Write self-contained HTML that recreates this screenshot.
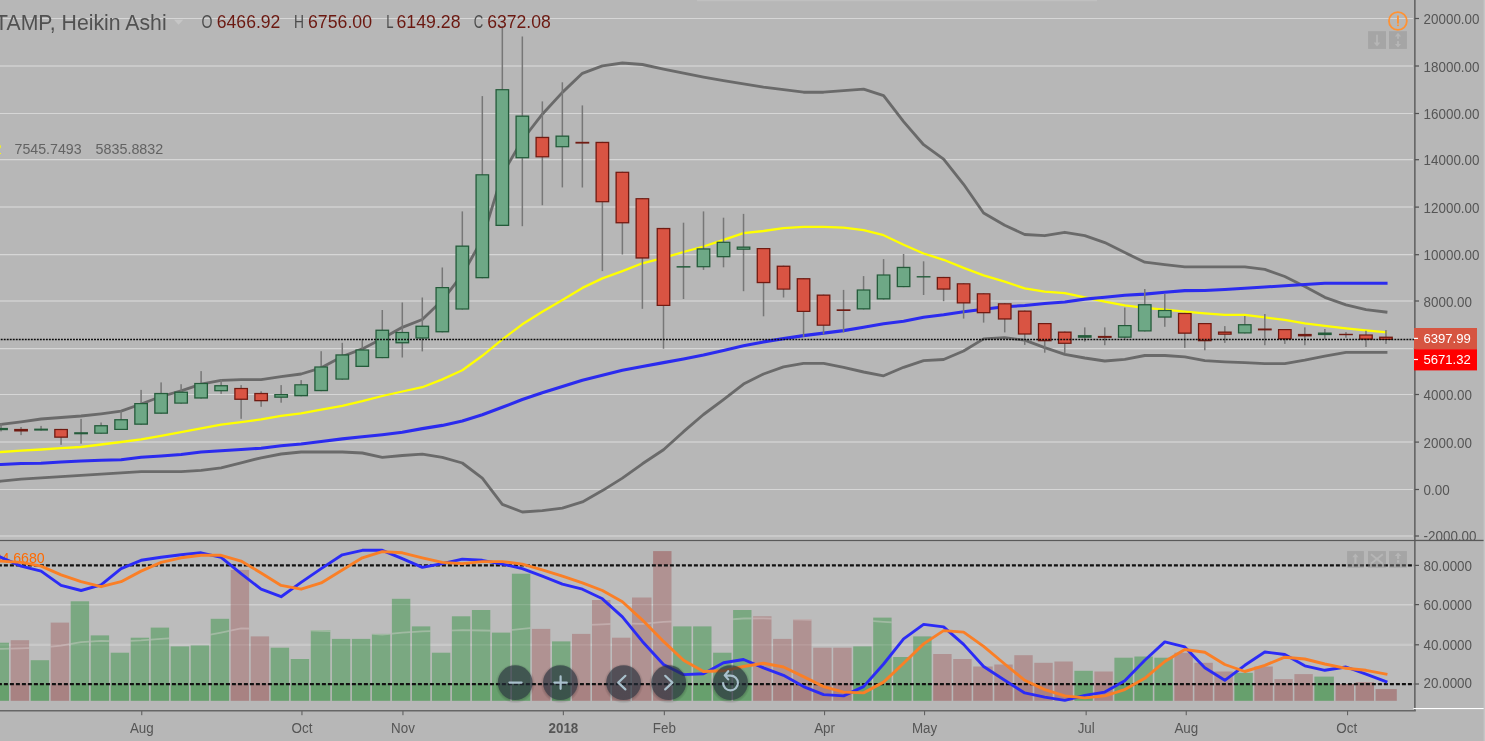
<!DOCTYPE html>
<html><head><meta charset="utf-8"><title>Chart</title>
<style>
html,body{margin:0;padding:0;background:#b7b7b7;overflow:hidden}
svg{display:block;will-change:transform}
text{font-family:"Liberation Sans",sans-serif}
</style></head><body>
<svg width="1485" height="741" viewBox="0 0 1485 741">
<rect width="1485" height="741" fill="#b7b7b7"/>
<rect x="697" y="0" width="400" height="1.2" fill="#c0c0c0"/>
<g stroke="#d6d6d6" stroke-width="1.15">
<line x1="0" y1="18.50" x2="1413" y2="18.50"/>
<line x1="0" y1="66.00" x2="1413" y2="66.00" stroke="#cacaca" stroke-width="2"/>
<line x1="0" y1="113.50" x2="1413" y2="113.50"/>
<line x1="0" y1="159.65" x2="1413" y2="159.65"/>
<line x1="0" y1="207.10" x2="1413" y2="207.10" stroke="#cacaca" stroke-width="2"/>
<line x1="0" y1="254.65" x2="1413" y2="254.65"/>
<line x1="0" y1="301.05" x2="1413" y2="301.05" stroke="#cacaca" stroke-width="2"/>
<line x1="0" y1="348.60" x2="1413" y2="348.60"/>
<line x1="0" y1="394.50" x2="1413" y2="394.50"/>
<line x1="0" y1="442.10" x2="1413" y2="442.10" stroke="#cacaca" stroke-width="2"/>
<line x1="0" y1="489.50" x2="1413" y2="489.50"/>
<line x1="0" y1="536.05" x2="1413" y2="536.05" stroke="#cacaca" stroke-width="2"/>
</g>
<g fill="none" stroke-linejoin="round" stroke-linecap="square">
<path d="M-20.0 426.9 L1.0 424.3 L21.1 421.8 L41.1 419.0 L61.1 417.5 L81.1 416.0 L101.1 413.8 L121.1 411.2 L141.1 404.0 L161.1 396.5 L181.1 390.8 L201.1 384.1 L221.1 380.3 L241.1 379.6 L261.1 379.6 L281.1 376.6 L301.1 374.0 L321.2 367.8 L342.3 356.5 L362.3 348.9 L382.3 338.5 L402.3 327.3 L422.3 319.5 L442.3 300.3 L462.3 274.7 L482.3 239.1 L502.3 174.3 L522.3 140.0 L542.3 114.2 L562.4 92.4 L582.4 73.3 L602.4 65.8 L622.4 63.0 L642.4 64.5 L663.5 69.1 L683.5 73.1 L703.5 77.1 L723.5 80.7 L743.5 83.9 L763.5 87.2 L783.5 89.7 L803.5 92.2 L823.6 92.2 L843.6 90.7 L863.6 89.2 L883.6 95.7 L903.6 121.6 L923.6 144.7 L943.6 159.2 L963.6 184.3 L983.6 213.0 L1004.7 225.2 L1024.7 234.5 L1044.7 235.7 L1064.8 232.3 L1084.8 235.6 L1104.8 242.6 L1124.8 252.6 L1144.8 262.2 L1164.8 264.7 L1184.8 266.9 L1204.8 266.9 L1224.8 266.9 L1244.8 266.9 L1264.8 269.4 L1284.8 276.5 L1304.8 286.5 L1324.8 297.3 L1346.0 304.8 L1366.0 309.6 L1386.0 312.1" stroke="#6a6a6a" stroke-width="2.85"/>
<path d="M-20.0 483.2 L1.0 481.1 L21.1 479.1 L41.1 477.9 L61.1 476.6 L81.1 475.3 L101.1 474.1 L121.1 472.8 L141.1 471.6 L161.1 471.6 L181.1 471.6 L201.1 470.3 L221.1 467.8 L241.1 462.8 L261.1 457.8 L281.1 454.0 L301.1 452.0 L321.2 452.0 L342.3 452.0 L362.3 453.0 L382.3 457.3 L402.3 455.5 L422.3 454.2 L442.3 457.3 L462.3 463.0 L482.3 478.1 L502.3 504.4 L522.3 512.0 L542.3 510.7 L562.4 508.2 L582.4 501.9 L602.4 490.6 L622.4 478.1 L642.4 463.8 L663.5 449.7 L683.5 431.7 L703.5 414.5 L723.5 399.6 L743.5 384.1 L763.5 374.0 L783.5 366.8 L803.5 363.3 L823.6 363.3 L843.6 367.3 L863.6 372.0 L883.6 375.8 L903.6 367.3 L923.6 360.7 L943.6 359.5 L963.6 351.0 L983.6 338.9 L1004.7 337.7 L1024.7 340.2 L1044.7 347.7 L1064.8 354.4 L1084.8 358.0 L1104.8 361.0 L1124.8 359.3 L1144.8 355.5 L1164.8 355.5 L1184.8 356.8 L1204.8 360.6 L1224.8 361.8 L1244.8 362.6 L1264.8 363.6 L1284.8 363.6 L1304.8 360.2 L1324.8 356.1 L1346.0 352.3 L1366.0 352.3 L1386.0 352.3" stroke="#6a6a6a" stroke-width="2.85"/>
<path d="M-20.0 453.4 L1.0 452.0 L21.1 450.7 L41.1 449.5 L61.1 448.2 L81.1 447.0 L101.1 444.5 L121.1 442.0 L141.1 439.4 L161.1 435.9 L181.1 432.2 L201.1 428.4 L221.1 424.6 L241.1 422.1 L261.1 419.4 L281.1 415.9 L301.1 413.3 L321.2 409.6 L342.3 405.8 L362.3 401.2 L382.3 396.0 L402.3 391.5 L422.3 387.2 L442.3 379.4 L462.3 370.2 L482.3 355.8 L502.3 339.4 L522.3 324.3 L542.3 311.8 L562.4 300.0 L582.4 287.9 L602.4 278.4 L622.4 271.1 L642.4 263.3 L663.5 257.8 L683.5 252.0 L703.5 246.5 L723.5 239.8 L743.5 233.2 L763.5 231.0 L783.5 228.2 L803.5 226.9 L823.6 226.9 L843.6 227.7 L863.6 230.2 L883.6 235.2 L903.6 244.8 L923.6 253.5 L943.6 259.8 L963.6 267.9 L983.6 275.4 L1004.7 281.7 L1024.7 288.4 L1044.7 291.7 L1064.8 293.2 L1084.8 297.3 L1104.8 301.6 L1124.8 305.3 L1144.8 307.9 L1164.8 309.6 L1184.8 311.6 L1204.8 313.4 L1224.8 314.9 L1244.8 314.9 L1264.8 317.4 L1284.8 319.9 L1304.8 323.4 L1324.8 325.9 L1346.0 328.4 L1366.0 330.4 L1386.0 332.2" stroke="#ffff00" stroke-width="2.3"/>
<path d="M-20.0 465.6 L1.0 464.5 L21.1 463.5 L41.1 463.3 L61.1 462.0 L81.1 461.0 L101.1 460.3 L121.1 459.8 L141.1 457.3 L161.1 456.0 L181.1 454.5 L201.1 452.0 L221.1 450.7 L241.1 449.5 L261.1 448.2 L281.1 445.7 L301.1 444.0 L321.2 441.5 L342.3 438.9 L362.3 436.8 L382.3 434.7 L402.3 432.2 L422.3 428.6 L442.3 425.4 L462.3 421.1 L482.3 414.8 L502.3 407.3 L522.3 399.5 L542.3 392.8 L562.4 386.5 L582.4 380.2 L602.4 375.2 L622.4 370.2 L642.4 366.4 L663.5 362.6 L683.5 358.9 L703.5 355.0 L723.5 350.4 L743.5 345.7 L763.5 341.9 L783.5 338.6 L803.5 335.6 L823.6 333.1 L843.6 330.6 L863.6 327.3 L883.6 323.8 L903.6 321.3 L923.6 317.3 L943.6 314.8 L963.6 311.8 L983.6 309.3 L1004.7 306.8 L1024.7 305.5 L1044.7 303.5 L1064.8 302.0 L1084.8 299.1 L1104.8 297.3 L1124.8 295.3 L1144.8 294.1 L1164.8 292.2 L1184.8 290.6 L1204.8 290.5 L1224.8 289.5 L1244.8 288.3 L1264.8 287.0 L1284.8 285.8 L1304.8 284.5 L1324.8 283.3 L1346.0 283.3 L1366.0 283.3 L1386.0 283.3" stroke="#2b2bee" stroke-width="3.1"/>
</g>
<g>
<rect x="0.29" y="423.3" width="1.5" height="8.1" fill="#777"/>
<rect x="-5.86" y="427.9" width="13.8" height="2.3" fill="#245b3a"/>
<rect x="20.30" y="427.0" width="1.5" height="8.1" fill="#777"/>
<rect x="14.15" y="428.9" width="13.8" height="2.6" fill="#701b12"/>
<rect x="40.31" y="425.9" width="1.5" height="4.7" fill="#777"/>
<rect x="34.16" y="428.6" width="13.8" height="2.0" fill="#245b3a"/>
<rect x="60.32" y="428.9" width="1.5" height="15.9" fill="#777"/>
<rect x="54.17" y="428.9" width="13.8" height="8.9" fill="#701b12"/>
<rect x="55.47" y="430.1" width="11.2" height="6.4" fill="#d95443"/>
<rect x="80.32" y="418.9" width="1.5" height="24.8" fill="#777"/>
<rect x="74.17" y="432.2" width="13.8" height="2.1" fill="#245b3a"/>
<rect x="100.33" y="422.5" width="1.5" height="11.3" fill="#777"/>
<rect x="94.18" y="425.1" width="13.8" height="8.7" fill="#245b3a"/>
<rect x="95.48" y="426.4" width="11.2" height="6.2" fill="#6ea886"/>
<rect x="120.34" y="410.8" width="1.5" height="19.2" fill="#777"/>
<rect x="114.19" y="419.1" width="13.8" height="10.9" fill="#245b3a"/>
<rect x="115.49" y="420.4" width="11.2" height="8.4" fill="#6ea886"/>
<rect x="140.34" y="389.9" width="1.5" height="34.9" fill="#777"/>
<rect x="134.19" y="403.0" width="13.8" height="21.8" fill="#245b3a"/>
<rect x="135.49" y="404.2" width="11.2" height="19.3" fill="#6ea886"/>
<rect x="160.35" y="382.4" width="1.5" height="31.4" fill="#777"/>
<rect x="154.20" y="392.9" width="13.8" height="20.9" fill="#245b3a"/>
<rect x="155.50" y="394.1" width="11.2" height="18.4" fill="#6ea886"/>
<rect x="180.36" y="384.2" width="1.5" height="19.5" fill="#777"/>
<rect x="174.21" y="391.6" width="13.8" height="12.1" fill="#245b3a"/>
<rect x="175.51" y="392.9" width="11.2" height="9.6" fill="#6ea886"/>
<rect x="200.36" y="371.1" width="1.5" height="27.5" fill="#777"/>
<rect x="194.21" y="382.9" width="13.8" height="15.7" fill="#245b3a"/>
<rect x="195.51" y="384.1" width="11.2" height="13.2" fill="#6ea886"/>
<rect x="220.37" y="379.4" width="1.5" height="14.5" fill="#777"/>
<rect x="214.22" y="385.1" width="13.8" height="6.2" fill="#245b3a"/>
<rect x="215.52" y="386.4" width="11.2" height="3.7" fill="#6ea886"/>
<rect x="240.38" y="385.1" width="1.5" height="33.7" fill="#777"/>
<rect x="234.23" y="387.9" width="13.8" height="12.0" fill="#701b12"/>
<rect x="235.53" y="389.1" width="11.2" height="9.5" fill="#d95443"/>
<rect x="260.39" y="391.3" width="1.5" height="15.5" fill="#777"/>
<rect x="254.24" y="392.9" width="13.8" height="8.4" fill="#701b12"/>
<rect x="255.54" y="394.1" width="11.2" height="5.9" fill="#d95443"/>
<rect x="280.39" y="385.1" width="1.5" height="17.6" fill="#777"/>
<rect x="274.24" y="394.0" width="13.8" height="3.8" fill="#245b3a"/>
<rect x="275.54" y="395.2" width="11.2" height="1.3" fill="#6ea886"/>
<rect x="300.40" y="380.1" width="1.5" height="16.2" fill="#777"/>
<rect x="294.25" y="384.2" width="13.8" height="12.1" fill="#245b3a"/>
<rect x="295.55" y="385.4" width="11.2" height="9.6" fill="#6ea886"/>
<rect x="320.41" y="351.2" width="1.5" height="40.0" fill="#777"/>
<rect x="314.26" y="366.4" width="13.8" height="24.8" fill="#245b3a"/>
<rect x="315.56" y="367.6" width="11.2" height="22.3" fill="#6ea886"/>
<rect x="341.53" y="342.8" width="1.5" height="36.9" fill="#777"/>
<rect x="335.38" y="354.3" width="13.8" height="25.4" fill="#245b3a"/>
<rect x="336.68" y="355.6" width="11.2" height="22.9" fill="#6ea886"/>
<rect x="361.53" y="338.9" width="1.5" height="28.1" fill="#777"/>
<rect x="355.38" y="349.4" width="13.8" height="17.6" fill="#245b3a"/>
<rect x="356.68" y="350.6" width="11.2" height="15.1" fill="#6ea886"/>
<rect x="381.54" y="310.0" width="1.5" height="48.2" fill="#777"/>
<rect x="375.39" y="329.6" width="13.8" height="28.6" fill="#245b3a"/>
<rect x="376.69" y="330.9" width="11.2" height="26.1" fill="#6ea886"/>
<rect x="401.55" y="302.5" width="1.5" height="55.0" fill="#777"/>
<rect x="395.40" y="331.9" width="13.8" height="11.5" fill="#245b3a"/>
<rect x="396.70" y="333.1" width="11.2" height="9.0" fill="#6ea886"/>
<rect x="421.55" y="297.5" width="1.5" height="53.9" fill="#777"/>
<rect x="415.40" y="325.6" width="13.8" height="13.0" fill="#245b3a"/>
<rect x="416.70" y="326.9" width="11.2" height="10.5" fill="#6ea886"/>
<rect x="441.56" y="267.5" width="1.5" height="64.9" fill="#777"/>
<rect x="435.41" y="287.0" width="13.8" height="45.4" fill="#245b3a"/>
<rect x="436.71" y="288.2" width="11.2" height="42.9" fill="#6ea886"/>
<rect x="461.57" y="211.4" width="1.5" height="98.2" fill="#777"/>
<rect x="455.42" y="245.5" width="13.8" height="64.1" fill="#245b3a"/>
<rect x="456.72" y="246.8" width="11.2" height="61.6" fill="#6ea886"/>
<rect x="481.57" y="96.1" width="1.5" height="182.2" fill="#777"/>
<rect x="475.42" y="174.2" width="13.8" height="104.1" fill="#245b3a"/>
<rect x="476.72" y="175.4" width="11.2" height="101.6" fill="#6ea886"/>
<rect x="501.58" y="26.0" width="1.5" height="200.0" fill="#777"/>
<rect x="495.43" y="89.1" width="13.8" height="136.9" fill="#245b3a"/>
<rect x="496.73" y="90.3" width="11.2" height="134.4" fill="#6ea886"/>
<rect x="521.59" y="36.5" width="1.5" height="189.7" fill="#777"/>
<rect x="515.44" y="115.5" width="13.8" height="42.8" fill="#245b3a"/>
<rect x="516.74" y="116.8" width="11.2" height="40.3" fill="#6ea886"/>
<rect x="541.60" y="101.4" width="1.5" height="103.8" fill="#777"/>
<rect x="535.45" y="136.8" width="13.8" height="20.6" fill="#701b12"/>
<rect x="536.75" y="138.1" width="11.2" height="18.1" fill="#d95443"/>
<rect x="561.60" y="82.3" width="1.5" height="105.1" fill="#777"/>
<rect x="555.45" y="135.5" width="13.8" height="11.8" fill="#245b3a"/>
<rect x="556.75" y="136.8" width="11.2" height="9.3" fill="#6ea886"/>
<rect x="581.61" y="105.4" width="1.5" height="82.1" fill="#777"/>
<rect x="575.46" y="141.8" width="13.8" height="1.8" fill="#701b12"/>
<rect x="601.62" y="141.8" width="1.5" height="129.3" fill="#777"/>
<rect x="595.47" y="141.8" width="13.8" height="60.5" fill="#701b12"/>
<rect x="596.77" y="143.1" width="11.2" height="58.0" fill="#d95443"/>
<rect x="621.62" y="171.7" width="1.5" height="82.8" fill="#777"/>
<rect x="615.47" y="171.7" width="13.8" height="51.7" fill="#701b12"/>
<rect x="616.77" y="172.9" width="11.2" height="49.2" fill="#d95443"/>
<rect x="641.63" y="198.1" width="1.5" height="110.7" fill="#777"/>
<rect x="635.48" y="198.1" width="13.8" height="60.5" fill="#701b12"/>
<rect x="636.78" y="199.3" width="11.2" height="58.0" fill="#d95443"/>
<rect x="662.75" y="227.9" width="1.5" height="120.8" fill="#777"/>
<rect x="656.60" y="227.9" width="13.8" height="78.1" fill="#701b12"/>
<rect x="657.90" y="229.2" width="11.2" height="75.6" fill="#d95443"/>
<rect x="682.76" y="222.7" width="1.5" height="76.3" fill="#777"/>
<rect x="676.61" y="266.1" width="13.8" height="1.5" fill="#245b3a"/>
<rect x="702.76" y="211.4" width="1.5" height="58.5" fill="#777"/>
<rect x="696.61" y="248.3" width="13.8" height="19.0" fill="#245b3a"/>
<rect x="697.91" y="249.6" width="11.2" height="16.5" fill="#6ea886"/>
<rect x="722.77" y="217.7" width="1.5" height="49.6" fill="#777"/>
<rect x="716.62" y="241.7" width="13.8" height="15.6" fill="#245b3a"/>
<rect x="717.92" y="242.9" width="11.2" height="13.1" fill="#6ea886"/>
<rect x="742.78" y="213.9" width="1.5" height="77.3" fill="#777"/>
<rect x="736.63" y="246.5" width="13.8" height="3.3" fill="#245b3a"/>
<rect x="737.93" y="247.8" width="11.2" height="0.8" fill="#6ea886"/>
<rect x="762.78" y="248.0" width="1.5" height="68.3" fill="#777"/>
<rect x="756.63" y="248.0" width="13.8" height="35.2" fill="#701b12"/>
<rect x="757.93" y="249.2" width="11.2" height="32.7" fill="#d95443"/>
<rect x="782.79" y="265.6" width="1.5" height="31.9" fill="#777"/>
<rect x="776.64" y="265.6" width="13.8" height="24.1" fill="#701b12"/>
<rect x="777.94" y="266.9" width="11.2" height="21.6" fill="#d95443"/>
<rect x="802.80" y="278.1" width="1.5" height="58.8" fill="#777"/>
<rect x="796.65" y="278.1" width="13.8" height="33.9" fill="#701b12"/>
<rect x="797.95" y="279.4" width="11.2" height="31.4" fill="#d95443"/>
<rect x="822.80" y="294.5" width="1.5" height="39.9" fill="#777"/>
<rect x="816.65" y="294.5" width="13.8" height="31.3" fill="#701b12"/>
<rect x="817.95" y="295.8" width="11.2" height="28.8" fill="#d95443"/>
<rect x="842.81" y="289.9" width="1.5" height="42.5" fill="#777"/>
<rect x="836.66" y="309.3" width="13.8" height="1.7" fill="#701b12"/>
<rect x="862.82" y="276.1" width="1.5" height="33.4" fill="#777"/>
<rect x="856.67" y="289.4" width="13.8" height="20.1" fill="#245b3a"/>
<rect x="857.97" y="290.6" width="11.2" height="17.6" fill="#6ea886"/>
<rect x="882.83" y="259.1" width="1.5" height="40.4" fill="#777"/>
<rect x="876.68" y="274.4" width="13.8" height="25.1" fill="#245b3a"/>
<rect x="877.98" y="275.6" width="11.2" height="22.6" fill="#6ea886"/>
<rect x="902.83" y="254.0" width="1.5" height="33.2" fill="#777"/>
<rect x="896.68" y="266.8" width="13.8" height="20.4" fill="#245b3a"/>
<rect x="897.98" y="268.1" width="11.2" height="17.9" fill="#6ea886"/>
<rect x="922.84" y="261.3" width="1.5" height="33.7" fill="#777"/>
<rect x="916.69" y="276.1" width="13.8" height="1.4" fill="#245b3a"/>
<rect x="942.85" y="276.9" width="1.5" height="24.3" fill="#777"/>
<rect x="936.70" y="276.9" width="13.8" height="12.8" fill="#701b12"/>
<rect x="938.00" y="278.1" width="11.2" height="10.3" fill="#d95443"/>
<rect x="962.85" y="283.2" width="1.5" height="35.4" fill="#777"/>
<rect x="956.70" y="283.2" width="13.8" height="20.3" fill="#701b12"/>
<rect x="958.00" y="284.4" width="11.2" height="17.8" fill="#d95443"/>
<rect x="982.86" y="293.2" width="1.5" height="29.4" fill="#777"/>
<rect x="976.71" y="293.2" width="13.8" height="20.1" fill="#701b12"/>
<rect x="978.01" y="294.4" width="11.2" height="17.6" fill="#d95443"/>
<rect x="1003.98" y="303.2" width="1.5" height="29.2" fill="#777"/>
<rect x="997.83" y="303.2" width="13.8" height="16.4" fill="#701b12"/>
<rect x="999.13" y="304.4" width="11.2" height="13.9" fill="#d95443"/>
<rect x="1023.99" y="310.5" width="1.5" height="34.4" fill="#777"/>
<rect x="1017.84" y="310.5" width="13.8" height="24.1" fill="#701b12"/>
<rect x="1019.14" y="311.8" width="11.2" height="21.6" fill="#d95443"/>
<rect x="1043.99" y="323.0" width="1.5" height="29.7" fill="#777"/>
<rect x="1037.84" y="323.0" width="13.8" height="18.3" fill="#701b12"/>
<rect x="1039.14" y="324.2" width="11.2" height="15.8" fill="#d95443"/>
<rect x="1064.00" y="331.5" width="1.5" height="21.5" fill="#777"/>
<rect x="1057.85" y="331.5" width="13.8" height="12.4" fill="#701b12"/>
<rect x="1059.15" y="332.8" width="11.2" height="9.9" fill="#d95443"/>
<rect x="1084.01" y="327.4" width="1.5" height="14.2" fill="#777"/>
<rect x="1077.86" y="335.1" width="13.8" height="2.7" fill="#245b3a"/>
<rect x="1104.01" y="327.4" width="1.5" height="17.8" fill="#777"/>
<rect x="1097.86" y="335.9" width="13.8" height="2.0" fill="#701b12"/>
<rect x="1124.02" y="307.6" width="1.5" height="31.3" fill="#777"/>
<rect x="1117.87" y="325.0" width="13.8" height="12.8" fill="#245b3a"/>
<rect x="1119.17" y="326.2" width="11.2" height="10.3" fill="#6ea886"/>
<rect x="1144.03" y="289.0" width="1.5" height="42.5" fill="#777"/>
<rect x="1137.88" y="304.1" width="13.8" height="27.4" fill="#245b3a"/>
<rect x="1139.18" y="305.4" width="11.2" height="24.9" fill="#6ea886"/>
<rect x="1164.04" y="293.8" width="1.5" height="33.0" fill="#777"/>
<rect x="1157.89" y="309.9" width="13.8" height="7.8" fill="#245b3a"/>
<rect x="1159.19" y="311.1" width="11.2" height="5.3" fill="#6ea886"/>
<rect x="1184.04" y="312.9" width="1.5" height="35.0" fill="#777"/>
<rect x="1177.89" y="312.9" width="13.8" height="20.9" fill="#701b12"/>
<rect x="1179.19" y="314.1" width="11.2" height="18.4" fill="#d95443"/>
<rect x="1204.05" y="323.0" width="1.5" height="27.3" fill="#777"/>
<rect x="1197.90" y="323.0" width="13.8" height="18.3" fill="#701b12"/>
<rect x="1199.20" y="324.2" width="11.2" height="15.8" fill="#d95443"/>
<rect x="1224.06" y="326.1" width="1.5" height="16.8" fill="#777"/>
<rect x="1217.91" y="331.5" width="13.8" height="3.3" fill="#701b12"/>
<rect x="1219.21" y="332.8" width="11.2" height="0.8" fill="#d95443"/>
<rect x="1244.06" y="316.0" width="1.5" height="17.5" fill="#777"/>
<rect x="1237.91" y="324.1" width="13.8" height="9.4" fill="#245b3a"/>
<rect x="1239.21" y="325.4" width="11.2" height="6.9" fill="#6ea886"/>
<rect x="1264.07" y="314.0" width="1.5" height="31.2" fill="#777"/>
<rect x="1257.92" y="328.5" width="13.8" height="1.9" fill="#701b12"/>
<rect x="1284.08" y="329.0" width="1.5" height="14.9" fill="#777"/>
<rect x="1277.93" y="329.0" width="13.8" height="10.5" fill="#701b12"/>
<rect x="1279.23" y="330.2" width="11.2" height="8.0" fill="#d95443"/>
<rect x="1304.08" y="327.4" width="1.5" height="17.8" fill="#777"/>
<rect x="1297.93" y="333.9" width="13.8" height="2.5" fill="#701b12"/>
<rect x="1324.09" y="329.0" width="1.5" height="10.5" fill="#777"/>
<rect x="1317.94" y="332.5" width="13.8" height="2.6" fill="#245b3a"/>
<rect x="1345.21" y="332.1" width="1.5" height="5.7" fill="#777"/>
<rect x="1339.06" y="333.8" width="13.8" height="1.4" fill="#701b12"/>
<rect x="1365.22" y="330.8" width="1.5" height="16.2" fill="#777"/>
<rect x="1359.07" y="334.4" width="13.8" height="5.4" fill="#701b12"/>
<rect x="1360.37" y="335.6" width="11.2" height="2.9" fill="#d95443"/>
<rect x="1385.22" y="330.1" width="1.5" height="13.8" fill="#777"/>
<rect x="1379.07" y="336.6" width="13.8" height="3.4" fill="#701b12"/>
<rect x="1380.37" y="337.9" width="11.2" height="0.9" fill="#d95443"/>
</g>
<line x1="0" y1="339.5" x2="1414" y2="339.5" stroke="#0c0c0c" stroke-width="1.3" stroke-dasharray="1.9 1.11" stroke-dashoffset="2.27"/>
<rect x="0" y="537" width="1414" height="3" fill="#bcbcbc"/>
<rect x="0" y="565.4" width="1414" height="118.7" fill="#bcbcbc"/>
<line x1="0" y1="604.65" x2="1413" y2="604.65" stroke="#d0d0d0" stroke-width="1.5"/>
<line x1="0" y1="644.8" x2="1413" y2="644.8" stroke="#c9c9c9" stroke-width="2.2"/>
<clipPath id="bc">
<rect x="-9.4" y="642.7" width="18.4" height="58.1"/>
<rect x="10.7" y="640.2" width="18.4" height="60.6"/>
<rect x="30.7" y="660.2" width="18.4" height="40.6"/>
<rect x="50.7" y="622.6" width="18.4" height="78.2"/>
<rect x="70.7" y="601.3" width="18.4" height="99.5"/>
<rect x="90.7" y="635.4" width="18.4" height="65.4"/>
<rect x="110.7" y="652.7" width="18.4" height="48.1"/>
<rect x="130.7" y="637.7" width="18.4" height="63.1"/>
<rect x="150.7" y="627.6" width="18.4" height="73.2"/>
<rect x="170.7" y="646.4" width="18.4" height="54.4"/>
<rect x="190.7" y="645.4" width="18.4" height="55.4"/>
<rect x="210.7" y="618.8" width="18.4" height="82.0"/>
<rect x="230.7" y="569.9" width="18.4" height="130.9"/>
<rect x="250.7" y="636.4" width="18.4" height="64.4"/>
<rect x="270.7" y="647.7" width="18.4" height="53.1"/>
<rect x="290.7" y="659.0" width="18.4" height="41.8"/>
<rect x="310.8" y="630.1" width="19.5" height="70.7"/>
<rect x="331.9" y="638.9" width="18.4" height="61.9"/>
<rect x="351.9" y="638.9" width="18.4" height="61.9"/>
<rect x="371.9" y="633.9" width="18.4" height="66.9"/>
<rect x="391.9" y="598.8" width="18.4" height="102.0"/>
<rect x="411.9" y="626.4" width="18.4" height="74.4"/>
<rect x="431.9" y="652.7" width="18.4" height="48.1"/>
<rect x="451.9" y="616.3" width="18.4" height="84.5"/>
<rect x="471.9" y="610.0" width="18.4" height="90.8"/>
<rect x="491.9" y="632.6" width="18.4" height="68.2"/>
<rect x="511.9" y="573.7" width="18.4" height="127.1"/>
<rect x="531.9" y="628.9" width="18.4" height="71.9"/>
<rect x="552.0" y="641.4" width="18.4" height="59.4"/>
<rect x="572.0" y="633.9" width="18.4" height="66.9"/>
<rect x="592.0" y="600.0" width="18.4" height="100.8"/>
<rect x="612.0" y="637.7" width="18.4" height="63.1"/>
<rect x="632.0" y="597.5" width="19.5" height="103.3"/>
<rect x="653.1" y="551.1" width="18.4" height="149.7"/>
<rect x="673.1" y="626.4" width="18.4" height="74.4"/>
<rect x="693.1" y="626.4" width="18.4" height="74.4"/>
<rect x="713.1" y="652.7" width="18.4" height="48.1"/>
<rect x="733.1" y="610.0" width="18.4" height="90.8"/>
<rect x="753.1" y="616.3" width="18.4" height="84.5"/>
<rect x="773.1" y="638.9" width="18.4" height="61.9"/>
<rect x="793.1" y="619.3" width="18.4" height="81.5"/>
<rect x="813.2" y="647.7" width="18.4" height="53.1"/>
<rect x="833.2" y="647.7" width="18.4" height="53.1"/>
<rect x="853.2" y="646.4" width="18.4" height="54.4"/>
<rect x="873.2" y="617.6" width="18.4" height="83.2"/>
<rect x="893.2" y="657.0" width="18.4" height="43.8"/>
<rect x="913.2" y="636.4" width="18.4" height="64.4"/>
<rect x="933.2" y="654.0" width="18.4" height="46.8"/>
<rect x="953.2" y="659.0" width="18.4" height="41.8"/>
<rect x="973.2" y="666.5" width="19.5" height="34.3"/>
<rect x="994.3" y="664.5" width="18.4" height="36.3"/>
<rect x="1014.3" y="655.2" width="18.4" height="45.6"/>
<rect x="1034.3" y="662.8" width="18.4" height="38.0"/>
<rect x="1054.4" y="661.5" width="18.4" height="39.3"/>
<rect x="1074.4" y="670.8" width="18.4" height="30.0"/>
<rect x="1094.4" y="671.5" width="18.4" height="29.3"/>
<rect x="1114.4" y="657.7" width="18.4" height="43.1"/>
<rect x="1134.4" y="656.5" width="18.4" height="44.3"/>
<rect x="1154.4" y="657.7" width="18.4" height="43.1"/>
<rect x="1174.4" y="652.7" width="18.4" height="48.1"/>
<rect x="1194.4" y="662.8" width="18.4" height="38.0"/>
<rect x="1214.4" y="671.5" width="18.4" height="29.3"/>
<rect x="1234.4" y="672.8" width="18.4" height="28.0"/>
<rect x="1254.4" y="666.5" width="18.4" height="34.3"/>
<rect x="1274.4" y="679.1" width="18.4" height="21.7"/>
<rect x="1294.4" y="674.1" width="18.4" height="26.7"/>
<rect x="1314.4" y="676.6" width="19.5" height="24.2"/>
<rect x="1335.6" y="684.1" width="18.4" height="16.7"/>
<rect x="1355.6" y="682.1" width="18.4" height="18.7"/>
<rect x="1375.6" y="689.1" width="21.2" height="11.7"/>
</clipPath>
<g>
<rect x="-9.4" y="642.7" width="18.4" height="41.4" fill="#7aa881"/>
<rect x="-9.4" y="684.1" width="18.4" height="16.7" fill="#67a06d"/>
<rect x="10.7" y="640.2" width="18.4" height="43.9" fill="#b09292"/>
<rect x="10.7" y="684.1" width="18.4" height="16.7" fill="#a88282"/>
<rect x="30.7" y="660.2" width="18.4" height="23.9" fill="#7aa881"/>
<rect x="30.7" y="684.1" width="18.4" height="16.7" fill="#67a06d"/>
<rect x="50.7" y="622.6" width="18.4" height="61.5" fill="#b09292"/>
<rect x="50.7" y="684.1" width="18.4" height="16.7" fill="#a88282"/>
<rect x="70.7" y="601.3" width="18.4" height="82.8" fill="#7aa881"/>
<rect x="70.7" y="684.1" width="18.4" height="16.7" fill="#67a06d"/>
<rect x="90.7" y="635.4" width="18.4" height="48.7" fill="#7aa881"/>
<rect x="90.7" y="684.1" width="18.4" height="16.7" fill="#67a06d"/>
<rect x="110.7" y="652.7" width="18.4" height="31.4" fill="#7aa881"/>
<rect x="110.7" y="684.1" width="18.4" height="16.7" fill="#67a06d"/>
<rect x="130.7" y="637.7" width="18.4" height="46.4" fill="#7aa881"/>
<rect x="130.7" y="684.1" width="18.4" height="16.7" fill="#67a06d"/>
<rect x="150.7" y="627.6" width="18.4" height="56.5" fill="#7aa881"/>
<rect x="150.7" y="684.1" width="18.4" height="16.7" fill="#67a06d"/>
<rect x="170.7" y="646.4" width="18.4" height="37.7" fill="#7aa881"/>
<rect x="170.7" y="684.1" width="18.4" height="16.7" fill="#67a06d"/>
<rect x="190.7" y="645.4" width="18.4" height="38.7" fill="#7aa881"/>
<rect x="190.7" y="684.1" width="18.4" height="16.7" fill="#67a06d"/>
<rect x="210.7" y="618.8" width="18.4" height="65.3" fill="#7aa881"/>
<rect x="210.7" y="684.1" width="18.4" height="16.7" fill="#67a06d"/>
<rect x="230.7" y="569.9" width="18.4" height="114.2" fill="#b09292"/>
<rect x="230.7" y="684.1" width="18.4" height="16.7" fill="#a88282"/>
<rect x="250.7" y="636.4" width="18.4" height="47.7" fill="#b09292"/>
<rect x="250.7" y="684.1" width="18.4" height="16.7" fill="#a88282"/>
<rect x="270.7" y="647.7" width="18.4" height="36.4" fill="#7aa881"/>
<rect x="270.7" y="684.1" width="18.4" height="16.7" fill="#67a06d"/>
<rect x="290.7" y="659.0" width="18.4" height="25.1" fill="#7aa881"/>
<rect x="290.7" y="684.1" width="18.4" height="16.7" fill="#67a06d"/>
<rect x="310.8" y="630.1" width="19.5" height="54.0" fill="#7aa881"/>
<rect x="310.8" y="684.1" width="19.5" height="16.7" fill="#67a06d"/>
<rect x="331.9" y="638.9" width="18.4" height="45.2" fill="#7aa881"/>
<rect x="331.9" y="684.1" width="18.4" height="16.7" fill="#67a06d"/>
<rect x="351.9" y="638.9" width="18.4" height="45.2" fill="#7aa881"/>
<rect x="351.9" y="684.1" width="18.4" height="16.7" fill="#67a06d"/>
<rect x="371.9" y="633.9" width="18.4" height="50.2" fill="#7aa881"/>
<rect x="371.9" y="684.1" width="18.4" height="16.7" fill="#67a06d"/>
<rect x="391.9" y="598.8" width="18.4" height="85.3" fill="#7aa881"/>
<rect x="391.9" y="684.1" width="18.4" height="16.7" fill="#67a06d"/>
<rect x="411.9" y="626.4" width="18.4" height="57.7" fill="#7aa881"/>
<rect x="411.9" y="684.1" width="18.4" height="16.7" fill="#67a06d"/>
<rect x="431.9" y="652.7" width="18.4" height="31.4" fill="#7aa881"/>
<rect x="431.9" y="684.1" width="18.4" height="16.7" fill="#67a06d"/>
<rect x="451.9" y="616.3" width="18.4" height="67.8" fill="#7aa881"/>
<rect x="451.9" y="684.1" width="18.4" height="16.7" fill="#67a06d"/>
<rect x="471.9" y="610.0" width="18.4" height="74.1" fill="#7aa881"/>
<rect x="471.9" y="684.1" width="18.4" height="16.7" fill="#67a06d"/>
<rect x="491.9" y="632.6" width="18.4" height="51.5" fill="#7aa881"/>
<rect x="491.9" y="684.1" width="18.4" height="16.7" fill="#67a06d"/>
<rect x="511.9" y="573.7" width="18.4" height="110.4" fill="#7aa881"/>
<rect x="511.9" y="684.1" width="18.4" height="16.7" fill="#67a06d"/>
<rect x="531.9" y="628.9" width="18.4" height="55.2" fill="#b09292"/>
<rect x="531.9" y="684.1" width="18.4" height="16.7" fill="#a88282"/>
<rect x="552.0" y="641.4" width="18.4" height="42.7" fill="#7aa881"/>
<rect x="552.0" y="684.1" width="18.4" height="16.7" fill="#67a06d"/>
<rect x="572.0" y="633.9" width="18.4" height="50.2" fill="#b09292"/>
<rect x="572.0" y="684.1" width="18.4" height="16.7" fill="#a88282"/>
<rect x="592.0" y="600.0" width="18.4" height="84.1" fill="#b09292"/>
<rect x="592.0" y="684.1" width="18.4" height="16.7" fill="#a88282"/>
<rect x="612.0" y="637.7" width="18.4" height="46.4" fill="#b09292"/>
<rect x="612.0" y="684.1" width="18.4" height="16.7" fill="#a88282"/>
<rect x="632.0" y="597.5" width="19.5" height="86.6" fill="#b09292"/>
<rect x="632.0" y="684.1" width="19.5" height="16.7" fill="#a88282"/>
<rect x="653.1" y="551.1" width="18.4" height="14.3" fill="#a88282"/>
<rect x="653.1" y="565.4" width="18.4" height="118.7" fill="#b09292"/>
<rect x="653.1" y="684.1" width="18.4" height="16.7" fill="#a88282"/>
<rect x="673.1" y="626.4" width="18.4" height="57.7" fill="#7aa881"/>
<rect x="673.1" y="684.1" width="18.4" height="16.7" fill="#67a06d"/>
<rect x="693.1" y="626.4" width="18.4" height="57.7" fill="#7aa881"/>
<rect x="693.1" y="684.1" width="18.4" height="16.7" fill="#67a06d"/>
<rect x="713.1" y="652.7" width="18.4" height="31.4" fill="#7aa881"/>
<rect x="713.1" y="684.1" width="18.4" height="16.7" fill="#67a06d"/>
<rect x="733.1" y="610.0" width="18.4" height="74.1" fill="#7aa881"/>
<rect x="733.1" y="684.1" width="18.4" height="16.7" fill="#67a06d"/>
<rect x="753.1" y="616.3" width="18.4" height="67.8" fill="#b09292"/>
<rect x="753.1" y="684.1" width="18.4" height="16.7" fill="#a88282"/>
<rect x="773.1" y="638.9" width="18.4" height="45.2" fill="#b09292"/>
<rect x="773.1" y="684.1" width="18.4" height="16.7" fill="#a88282"/>
<rect x="793.1" y="619.3" width="18.4" height="64.8" fill="#b09292"/>
<rect x="793.1" y="684.1" width="18.4" height="16.7" fill="#a88282"/>
<rect x="813.2" y="647.7" width="18.4" height="36.4" fill="#b09292"/>
<rect x="813.2" y="684.1" width="18.4" height="16.7" fill="#a88282"/>
<rect x="833.2" y="647.7" width="18.4" height="36.4" fill="#b09292"/>
<rect x="833.2" y="684.1" width="18.4" height="16.7" fill="#a88282"/>
<rect x="853.2" y="646.4" width="18.4" height="37.7" fill="#7aa881"/>
<rect x="853.2" y="684.1" width="18.4" height="16.7" fill="#67a06d"/>
<rect x="873.2" y="617.6" width="18.4" height="66.5" fill="#7aa881"/>
<rect x="873.2" y="684.1" width="18.4" height="16.7" fill="#67a06d"/>
<rect x="893.2" y="657.0" width="18.4" height="27.1" fill="#7aa881"/>
<rect x="893.2" y="684.1" width="18.4" height="16.7" fill="#67a06d"/>
<rect x="913.2" y="636.4" width="18.4" height="47.7" fill="#7aa881"/>
<rect x="913.2" y="684.1" width="18.4" height="16.7" fill="#67a06d"/>
<rect x="933.2" y="654.0" width="18.4" height="30.1" fill="#b09292"/>
<rect x="933.2" y="684.1" width="18.4" height="16.7" fill="#a88282"/>
<rect x="953.2" y="659.0" width="18.4" height="25.1" fill="#b09292"/>
<rect x="953.2" y="684.1" width="18.4" height="16.7" fill="#a88282"/>
<rect x="973.2" y="666.5" width="19.5" height="17.6" fill="#b09292"/>
<rect x="973.2" y="684.1" width="19.5" height="16.7" fill="#a88282"/>
<rect x="994.3" y="664.5" width="18.4" height="19.6" fill="#b09292"/>
<rect x="994.3" y="684.1" width="18.4" height="16.7" fill="#a88282"/>
<rect x="1014.3" y="655.2" width="18.4" height="28.9" fill="#b09292"/>
<rect x="1014.3" y="684.1" width="18.4" height="16.7" fill="#a88282"/>
<rect x="1034.3" y="662.8" width="18.4" height="21.3" fill="#b09292"/>
<rect x="1034.3" y="684.1" width="18.4" height="16.7" fill="#a88282"/>
<rect x="1054.4" y="661.5" width="18.4" height="22.6" fill="#b09292"/>
<rect x="1054.4" y="684.1" width="18.4" height="16.7" fill="#a88282"/>
<rect x="1074.4" y="670.8" width="18.4" height="13.3" fill="#7aa881"/>
<rect x="1074.4" y="684.1" width="18.4" height="16.7" fill="#67a06d"/>
<rect x="1094.4" y="671.5" width="18.4" height="12.6" fill="#b09292"/>
<rect x="1094.4" y="684.1" width="18.4" height="16.7" fill="#a88282"/>
<rect x="1114.4" y="657.7" width="18.4" height="26.4" fill="#7aa881"/>
<rect x="1114.4" y="684.1" width="18.4" height="16.7" fill="#67a06d"/>
<rect x="1134.4" y="656.5" width="18.4" height="27.6" fill="#7aa881"/>
<rect x="1134.4" y="684.1" width="18.4" height="16.7" fill="#67a06d"/>
<rect x="1154.4" y="657.7" width="18.4" height="26.4" fill="#7aa881"/>
<rect x="1154.4" y="684.1" width="18.4" height="16.7" fill="#67a06d"/>
<rect x="1174.4" y="652.7" width="18.4" height="31.4" fill="#b09292"/>
<rect x="1174.4" y="684.1" width="18.4" height="16.7" fill="#a88282"/>
<rect x="1194.4" y="662.8" width="18.4" height="21.3" fill="#b09292"/>
<rect x="1194.4" y="684.1" width="18.4" height="16.7" fill="#a88282"/>
<rect x="1214.4" y="671.5" width="18.4" height="12.6" fill="#b09292"/>
<rect x="1214.4" y="684.1" width="18.4" height="16.7" fill="#a88282"/>
<rect x="1234.4" y="672.8" width="18.4" height="11.3" fill="#7aa881"/>
<rect x="1234.4" y="684.1" width="18.4" height="16.7" fill="#67a06d"/>
<rect x="1254.4" y="666.5" width="18.4" height="17.6" fill="#b09292"/>
<rect x="1254.4" y="684.1" width="18.4" height="16.7" fill="#a88282"/>
<rect x="1274.4" y="679.1" width="18.4" height="5.0" fill="#b09292"/>
<rect x="1274.4" y="684.1" width="18.4" height="16.7" fill="#a88282"/>
<rect x="1294.4" y="674.1" width="18.4" height="10.0" fill="#b09292"/>
<rect x="1294.4" y="684.1" width="18.4" height="16.7" fill="#a88282"/>
<rect x="1314.4" y="676.6" width="19.5" height="7.5" fill="#7aa881"/>
<rect x="1314.4" y="684.1" width="19.5" height="16.7" fill="#67a06d"/>
<rect x="1335.6" y="684.1" width="18.4" height="16.7" fill="#a88282"/>
<rect x="1355.6" y="682.1" width="18.4" height="2.0" fill="#b09292"/>
<rect x="1355.6" y="684.1" width="18.4" height="16.7" fill="#a88282"/>
<rect x="1375.6" y="689.1" width="21.2" height="11.7" fill="#a88282"/>
</g>
<g clip-path="url(#bc)" fill="none">
<path d="M0 604.6 H1413 M0 644.8 H1413" stroke="#fff" stroke-opacity="0.12" stroke-width="1.3"/>
<path d="M-20.0 649.4 L1.0 648.9 L21.1 648.4 L41.1 647.7 L61.1 645.7 L81.1 642.2 L101.1 640.9 L121.1 641.4 L141.1 640.4 L161.1 638.9 L181.1 637.7 L201.1 636.4 L221.1 632.6 L241.1 628.4 L261.1 628.9 L281.1 629.5 L301.1 630.2 L321.2 630.9 L342.3 631.4 L362.3 633.0 L382.3 634.6 L402.3 632.6 L422.3 631.4 L442.3 630.9 L462.3 630.1 L482.3 630.5 L502.3 630.9 L522.3 628.9 L542.3 626.9 L562.4 626.0 L582.4 625.2 L602.4 624.4 L622.4 623.3 L642.4 623.9 L663.5 621.8 L683.5 621.0 L703.5 620.0 L723.5 619.8 L743.5 618.5 L763.5 618.3 L783.5 619.0 L803.5 619.7 L823.6 620.0 L843.6 620.2 L863.6 620.4 L883.6 621.8 L903.6 623.0 L923.6 624.0 L943.6 625.0 L963.6 626.0 L983.6 627.0 L1004.7 628.0 L1024.7 629.0 L1044.7 630.0 L1064.8 631.0 L1084.8 632.0 L1104.8 633.0 L1124.8 634.0 L1144.8 635.0 L1164.8 636.0 L1184.8 637.0 L1204.8 638.0 L1224.8 639.0 L1244.8 640.0 L1264.8 641.0 L1284.8 642.0 L1304.8 643.0 L1324.8 644.0 L1346.0 645.0 L1366.0 646.0 L1386.0 647.0" stroke="#e0d8d8" stroke-opacity="0.38" stroke-width="1.8"/>
</g>
<text x="44.7" y="563.2" font-size="14.5" fill="#ff6a00" text-anchor="end" textLength="51.2" lengthAdjust="spacingAndGlyphs">34.6680</text>
<g stroke="#111" stroke-width="2.4" stroke-dasharray="4 2" stroke-dashoffset="2.1">
<line x1="0" y1="565.4" x2="1414" y2="565.4"/>
<line x1="0" y1="684.1" x2="1414" y2="684.1"/>
</g>
<g fill="none" stroke-linejoin="round" stroke-linecap="square">
<path d="M-20.0 548.0 L1.0 557.3 L21.1 566.1 L41.1 571.1 L61.1 585.4 L81.1 590.5 L101.1 584.9 L121.1 568.6 L141.1 560.3 L161.1 557.3 L181.1 554.8 L201.1 552.8 L221.1 557.3 L241.1 573.7 L261.1 589.2 L281.1 596.7 L301.1 582.4 L321.2 568.6 L342.3 554.8 L362.3 550.3 L382.3 550.3 L402.3 558.6 L422.3 567.4 L442.3 563.6 L462.3 559.1 L482.3 560.3 L502.3 564.1 L522.3 568.6 L542.3 576.2 L562.4 584.2 L582.4 589.2 L602.4 598.8 L622.4 616.8 L642.4 641.4 L663.5 664.5 L683.5 674.6 L703.5 673.7 L723.5 662.8 L743.5 659.5 L763.5 667.8 L783.5 675.3 L803.5 686.6 L823.6 694.6 L843.6 695.9 L863.6 686.6 L883.6 664.0 L903.6 638.9 L923.6 624.4 L943.6 626.9 L963.6 644.4 L983.6 666.5 L1004.7 680.3 L1024.7 692.9 L1044.7 697.1 L1064.8 700.4 L1084.8 695.4 L1104.8 692.1 L1124.8 680.8 L1144.8 660.2 L1164.8 641.9 L1184.8 646.9 L1204.8 667.8 L1224.8 680.3 L1244.8 665.3 L1264.8 652.0 L1284.8 654.5 L1304.8 665.8 L1324.8 670.3 L1346.0 667.0 L1366.0 674.1 L1386.0 681.6" stroke="#2b2bf6" stroke-width="2.9"/>
<path d="M-20.0 559.7 L1.0 561.1 L21.1 562.4 L41.1 566.1 L61.1 574.9 L81.1 581.7 L101.1 586.7 L121.1 581.7 L141.1 571.1 L161.1 562.4 L181.1 557.8 L201.1 555.3 L221.1 555.3 L241.1 561.1 L261.1 572.9 L281.1 585.4 L301.1 589.2 L321.2 582.9 L342.3 569.9 L362.3 557.8 L382.3 551.6 L402.3 552.8 L422.3 557.8 L442.3 562.4 L462.3 563.6 L482.3 561.6 L502.3 561.6 L522.3 564.1 L542.3 569.9 L562.4 576.2 L582.4 582.9 L602.4 590.5 L622.4 601.8 L642.4 620.1 L663.5 641.4 L683.5 660.2 L703.5 671.5 L723.5 670.8 L743.5 666.5 L763.5 663.3 L783.5 667.0 L803.5 676.6 L823.6 686.6 L843.6 692.1 L863.6 692.9 L883.6 682.1 L903.6 663.3 L923.6 643.9 L943.6 630.6 L963.6 632.1 L983.6 646.4 L1004.7 664.0 L1024.7 680.3 L1044.7 689.6 L1064.8 695.9 L1084.8 697.9 L1104.8 695.9 L1124.8 689.6 L1144.8 678.3 L1164.8 661.5 L1184.8 649.5 L1204.8 652.2 L1224.8 664.5 L1244.8 671.5 L1264.8 665.3 L1284.8 657.2 L1304.8 659.0 L1324.8 664.0 L1346.0 668.3 L1366.0 670.3 L1386.0 674.1" stroke="#fa7f26" stroke-width="2.9"/>
</g>
<rect x="0" y="539.9" width="1485" height="1.2" fill="#595959"/>
<rect x="1414" y="0" width="1.7" height="711" fill="#686868"/>
<rect x="0" y="710" width="1415.8" height="1.5" fill="#666"/>
<rect x="1413.4" y="708" width="71" height="1.1" fill="#fff"/>
<g font-size="13.95" fill="#555" lengthAdjust="spacingAndGlyphs">
<rect x="1415" y="17.9" width="4" height="1.2" fill="#525252"/>
<text x="1423.6" y="24.2" textLength="55.9" lengthAdjust="spacingAndGlyphs">20000.00</text>
<rect x="1415" y="65.4" width="4" height="1.2" fill="#525252"/>
<text x="1423.6" y="71.7" textLength="55.9" lengthAdjust="spacingAndGlyphs">18000.00</text>
<rect x="1415" y="112.9" width="4" height="1.2" fill="#525252"/>
<text x="1423.6" y="119.2" textLength="55.9" lengthAdjust="spacingAndGlyphs">16000.00</text>
<rect x="1415" y="159.1" width="4" height="1.2" fill="#525252"/>
<text x="1423.6" y="165.3" textLength="55.9" lengthAdjust="spacingAndGlyphs">14000.00</text>
<rect x="1415" y="206.5" width="4" height="1.2" fill="#525252"/>
<text x="1423.6" y="212.8" textLength="55.9" lengthAdjust="spacingAndGlyphs">12000.00</text>
<rect x="1415" y="254.1" width="4" height="1.2" fill="#525252"/>
<text x="1423.6" y="260.4" textLength="55.9" lengthAdjust="spacingAndGlyphs">10000.00</text>
<rect x="1415" y="300.4" width="4" height="1.2" fill="#525252"/>
<text x="1423.6" y="306.8" textLength="48.4" lengthAdjust="spacingAndGlyphs">8000.00</text>
<rect x="1415" y="348.0" width="4" height="1.2" fill="#525252"/>
<rect x="1415" y="393.9" width="4" height="1.2" fill="#525252"/>
<text x="1423.6" y="400.2" textLength="48.4" lengthAdjust="spacingAndGlyphs">4000.00</text>
<rect x="1415" y="441.5" width="4" height="1.2" fill="#525252"/>
<text x="1423.6" y="447.8" textLength="48.4" lengthAdjust="spacingAndGlyphs">2000.00</text>
<rect x="1415" y="488.9" width="4" height="1.2" fill="#525252"/>
<text x="1423.6" y="495.2" textLength="26.1" lengthAdjust="spacingAndGlyphs">0.00</text>
<rect x="1415" y="535.4" width="4" height="1.2" fill="#525252"/>
<text x="1423.6" y="540.5" textLength="52.9" lengthAdjust="spacingAndGlyphs">-2000.00</text>
<rect x="1415" y="564.8" width="4" height="1.2" fill="#525252"/>
<text x="1423.6" y="571.1" textLength="48.4" lengthAdjust="spacingAndGlyphs">80.0000</text>
<rect x="1415" y="604.0" width="4" height="1.2" fill="#525252"/>
<text x="1423.6" y="610.4" textLength="48.4" lengthAdjust="spacingAndGlyphs">60.0000</text>
<rect x="1415" y="644.2" width="4" height="1.2" fill="#525252"/>
<text x="1423.6" y="649.5" textLength="48.4" lengthAdjust="spacingAndGlyphs">40.0000</text>
<rect x="1415" y="683.4" width="4" height="1.2" fill="#525252"/>
<text x="1423.6" y="688.2" textLength="48.4" lengthAdjust="spacingAndGlyphs">20.0000</text>
</g>
<rect x="1416" y="541.1" width="69" height="8" fill="#b7b7b7"/>
<rect x="1414" y="539.9" width="71" height="1.2" fill="#595959"/>
<rect x="1414" y="328" width="63" height="21.2" fill="#d65541"/>
<rect x="1414" y="349.2" width="63" height="21.2" fill="#ff0000"/>
<rect x="1414" y="337.8" width="4" height="1.2" fill="#fff"/>
<rect x="1414" y="358.9" width="4" height="1.2" fill="#fff"/>
<text x="1423.4" y="343" font-size="13.2" fill="#fff" textLength="47.4" lengthAdjust="spacingAndGlyphs">6397.99</text>
<text x="1423.4" y="364" font-size="13.2" fill="#fff" textLength="47.4" lengthAdjust="spacingAndGlyphs">5671.32</text>
<g font-size="13.95" fill="#555" text-anchor="middle">
<rect x="141.2" y="711" width="1.1" height="4.2" fill="#606060"/>
<text x="141.8" y="732.8" textLength="23.8" lengthAdjust="spacingAndGlyphs">Aug</text>
<rect x="301.4" y="711" width="1.1" height="4.2" fill="#606060"/>
<text x="302.0" y="732.8" textLength="20.9" lengthAdjust="spacingAndGlyphs">Oct</text>
<rect x="402.4" y="711" width="1.1" height="4.2" fill="#606060"/>
<text x="403.0" y="732.8" textLength="23.8" lengthAdjust="spacingAndGlyphs">Nov</text>
<rect x="562.8" y="711" width="1.1" height="4.2" fill="#606060"/>
<text x="563.4" y="732.8" textLength="29.8" lengthAdjust="spacingAndGlyphs" font-weight="bold">2018</text>
<rect x="663.8" y="711" width="1.1" height="4.2" fill="#606060"/>
<text x="664.4" y="732.8" textLength="23.1" lengthAdjust="spacingAndGlyphs">Feb</text>
<rect x="824.0" y="711" width="1.1" height="4.2" fill="#606060"/>
<text x="824.6" y="732.8" textLength="20.9" lengthAdjust="spacingAndGlyphs">Apr</text>
<rect x="924.0" y="711" width="1.1" height="4.2" fill="#606060"/>
<text x="924.6" y="732.8" textLength="25.3" lengthAdjust="spacingAndGlyphs">May</text>
<rect x="1085.6" y="711" width="1.1" height="4.2" fill="#606060"/>
<text x="1086.2" y="732.8" textLength="17.1" lengthAdjust="spacingAndGlyphs">Jul</text>
<rect x="1185.7" y="711" width="1.1" height="4.2" fill="#606060"/>
<text x="1186.3" y="732.8" textLength="23.8" lengthAdjust="spacingAndGlyphs">Aug</text>
<rect x="1347.0" y="711" width="1.1" height="4.2" fill="#606060"/>
<text x="1346.8" y="732.8" textLength="20.9" lengthAdjust="spacingAndGlyphs">Oct</text>
</g>
<text x="166.6" y="30" font-size="21.8" fill="#515151" text-anchor="end" textLength="171.5" lengthAdjust="spacingAndGlyphs">TAMP, Heikin Ashi</text>
<path d="M174 19.8 L183.2 19.8 L178.6 24.8 Z" fill="#c6c6c6"/>
<text x="201.5" y="27.5" font-size="17.8" fill="#4c4c4c" textLength="11.0" lengthAdjust="spacingAndGlyphs">O</text>
<text x="216.8" y="27.5" font-size="17.8" fill="#6b1810" textLength="63.6" lengthAdjust="spacingAndGlyphs">6466.92</text>
<text x="294.0" y="27.5" font-size="17.8" fill="#4c4c4c" textLength="10.0" lengthAdjust="spacingAndGlyphs">H</text>
<text x="308.0" y="27.5" font-size="17.8" fill="#6b1810" textLength="64.0" lengthAdjust="spacingAndGlyphs">6756.00</text>
<text x="386.3" y="27.5" font-size="17.8" fill="#4c4c4c" textLength="7.3" lengthAdjust="spacingAndGlyphs">L</text>
<text x="396.5" y="27.5" font-size="17.8" fill="#6b1810" textLength="64.0" lengthAdjust="spacingAndGlyphs">6149.28</text>
<text x="473.8" y="27.5" font-size="17.8" fill="#4c4c4c" textLength="9.5" lengthAdjust="spacingAndGlyphs">C</text>
<text x="487.2" y="27.5" font-size="17.8" fill="#6b1810" textLength="63.6" lengthAdjust="spacingAndGlyphs">6372.08</text>
<text x="14.6" y="154" font-size="15.2" fill="#636363" textLength="67" lengthAdjust="spacingAndGlyphs">7545.7493</text>
<text x="95.6" y="154" font-size="15.2" fill="#636363" textLength="67.6" lengthAdjust="spacingAndGlyphs">5835.8832</text>
<text x="1.6" y="154" font-size="15.2" fill="#ffff00" text-anchor="end">2</text>
<circle cx="1397.9" cy="21" r="8.95" fill="none" stroke="#ff9234" stroke-width="1.8"/>
<rect x="1397" y="15.5" width="1.9" height="8.1" fill="#ff9234"/><rect x="1397" y="24.6" width="1.9" height="1.5" fill="#ff9234"/>
<rect x="1368.1" y="31.2" width="17.9" height="17.7" fill="#8a8a8a" fill-opacity="0.4"/>
<rect x="1389" y="31.2" width="17.9" height="17.7" fill="#8a8a8a" fill-opacity="0.4"/>
<g fill="#b6b6b6">
<rect x="1376.1" y="34.7" width="1.8" height="8.5"/><path d="M1373.7 42.4 H1380.3 L1377 46.4 Z"/>
<path d="M1398 32.8 L1401.1 36.4 H1394.9 Z"/><rect x="1397.1" y="36.2" width="1.8" height="2.6"/>
<rect x="1397.1" y="41.1" width="1.8" height="3.2"/><path d="M1394.9 43.9 H1401.1 L1398 47.5 Z"/>
</g>
<rect x="1347.1" y="551.1" width="16.8" height="16.6" fill="#8a8a8a" fill-opacity="0.4"/>
<rect x="1368.0" y="551.1" width="17.9" height="16.6" fill="#8a8a8a" fill-opacity="0.4"/>
<rect x="1389.1" y="551.1" width="17.8" height="16.6" fill="#8a8a8a" fill-opacity="0.4"/>
<g fill="#b6b6b6">
<path d="M1355.4 553.6 L1358.5 557.2 H1352.3 Z"/><rect x="1354.3" y="557" width="2.2" height="6.8"/>
<path d="M1398.1 552.6 L1401.4 556 H1394.8 Z"/><rect x="1397" y="555.9" width="2.2" height="3"/><rect x="1397" y="560.2" width="2.2" height="2.5"/>
</g>
<path d="M1371 554.2 L1382.8 563.8 M1382.8 554.2 L1371 563.8" stroke="#b6b6b6" stroke-width="1.9" fill="none"/>
<defs><radialGradient id="sh"><stop offset="0.86" stop-color="#000" stop-opacity="0.16"/><stop offset="1" stop-color="#000" stop-opacity="0"/></radialGradient></defs>
<circle cx="515.2" cy="683.6" r="20" fill="url(#sh)"/>
<circle cx="515.2" cy="682.7" r="17.4" fill="#28323f" fill-opacity="0.6"/>
<circle cx="560.4" cy="683.6" r="20" fill="url(#sh)"/>
<circle cx="560.4" cy="682.7" r="17.4" fill="#28323f" fill-opacity="0.6"/>
<circle cx="623.6" cy="683.6" r="20" fill="url(#sh)"/>
<circle cx="623.6" cy="682.7" r="17.4" fill="#28323f" fill-opacity="0.6"/>
<circle cx="668.7" cy="683.6" r="20" fill="url(#sh)"/>
<circle cx="668.7" cy="682.7" r="17.4" fill="#28323f" fill-opacity="0.6"/>
<circle cx="730.5" cy="683.6" r="20" fill="url(#sh)"/>
<circle cx="730.5" cy="682.7" r="17.4" fill="#28323f" fill-opacity="0.6"/>
<g stroke="#a9c0cc" stroke-width="2.2" fill="none" stroke-linecap="round" stroke-linejoin="round">
<path d="M509.4 682.6 H521.6"/>
<path d="M554.4 682.6 H566.8 M560.6 676.4 V688.8"/>
<path d="M625.4 675.8 L618.2 682.6 L625.4 689.4"/>
<path d="M665.2 675.8 L672.4 682.6 L665.2 689.4"/>
<path d="M728.2 671.2 L724.7 675.4 L728.2 679.4 M725.2 675.6 H730.5 A7.4 7.4 0 1 1 723.1 683"/>
</g>
<rect x="1483.6" y="0" width="1.4" height="741" fill="#c6c6c6"/>
</svg></body></html>
